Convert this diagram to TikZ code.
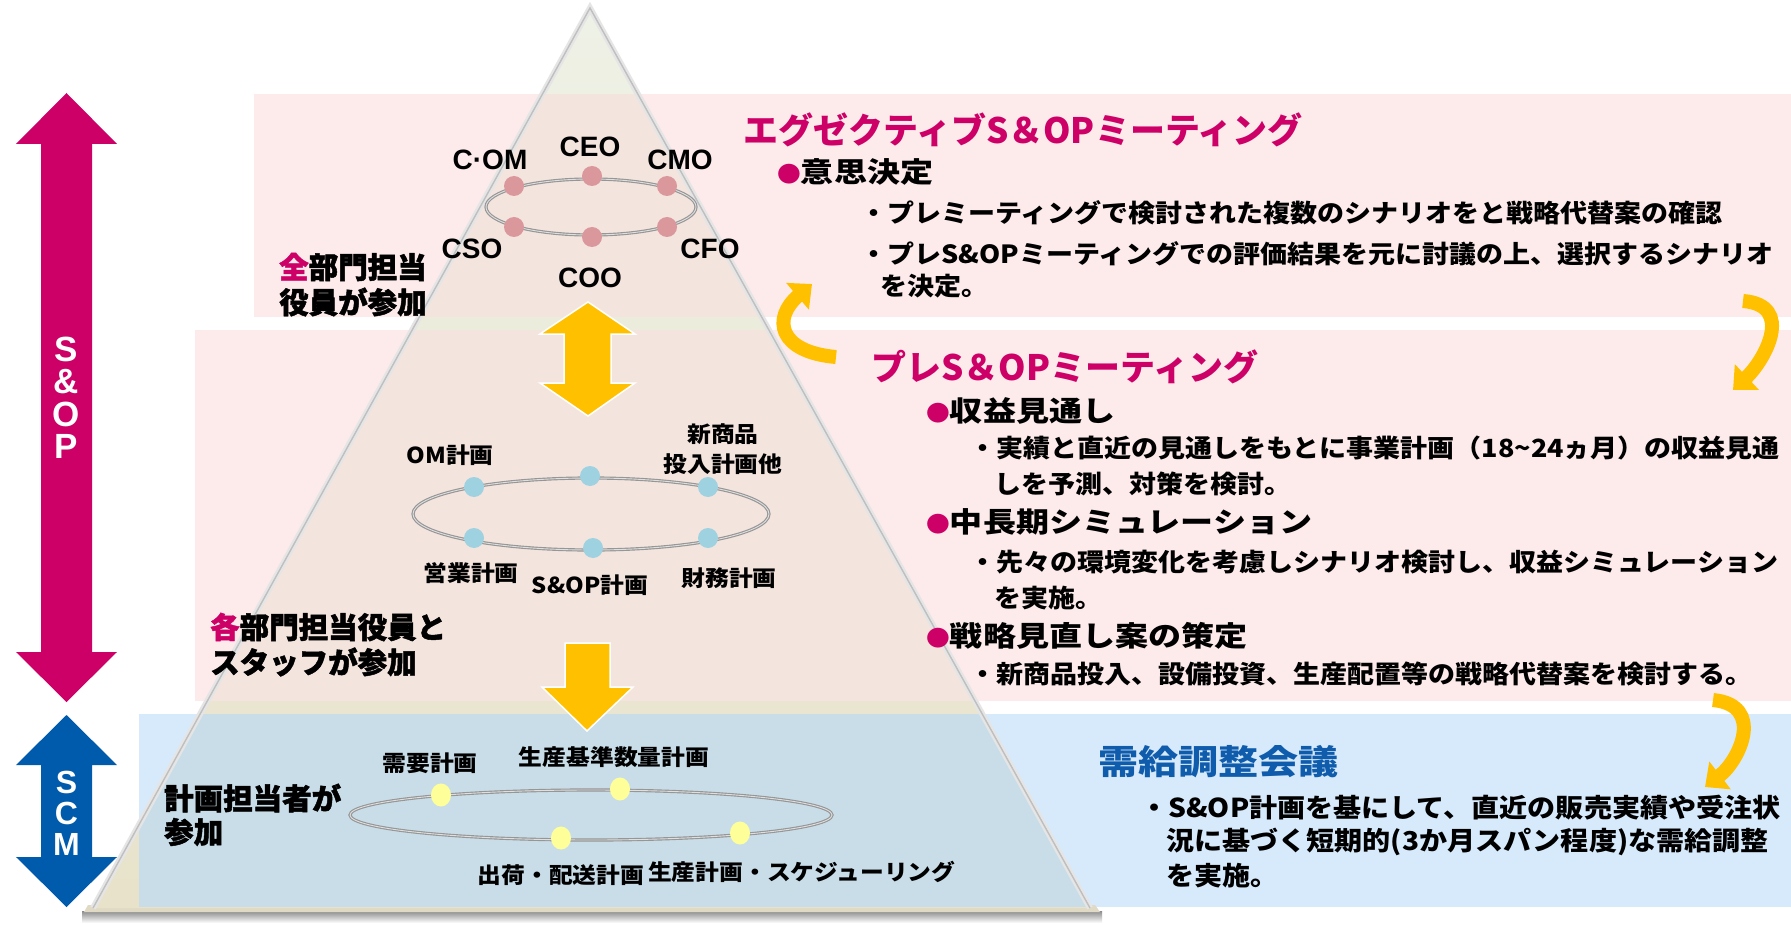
\documentclass[tikz,border=0pt]{standalone}
\usepackage{fontspec}
\setmainfont{Liberation Sans}
\newfontfamily\jp{Noto Sans CJK JP}[FakeStretch=1.08]
\newfontfamily\jph{Noto Sans CJK JP}
\newfontfamily\jpk{Noto Sans CJK JP}[FakeBold=1.6]
\newfontfamily\jpw{Noto Sans CJK JP}[FakeStretch=1.18]
\usetikzlibrary{arrows.meta,shadings,shapes.geometric}
\definecolor{mag}{RGB}{204,0,102}
\definecolor{scmblue}{RGB}{0,91,172}
\definecolor{headblue}{RGB}{16,92,172}
\definecolor{amber}{RGB}{255,192,0}
\definecolor{pinkband}{RGB}{253,235,236}
\definecolor{pinkin}{RGB}{244,228,222}
\definecolor{blueband}{RGB}{215,234,251}
\definecolor{bluein}{RGB}{201,221,233}
\definecolor{pyrtop}{RGB}{238,241,230}
\definecolor{pyrbot}{RGB}{232,226,202}
\definecolor{dotpink}{RGB}{219,152,156}
\definecolor{dotblue}{RGB}{158,210,225}
\definecolor{dotyellow}{RGB}{255,255,153}
\definecolor{ringgray}{RGB}{150,150,150}
\newcommand{\magdot}{{\jp\fontsize{22}{22}\selectfont\color{mag}●}}
\tikzset{
  jpbody/.style={font=\jp\bfseries\fontsize{25}{30}\selectfont, anchor=west, inner sep=0pt},
  jpbody2/.style={font=\jp\bfseries\fontsize{26}{30}\selectfont, anchor=west, inner sep=0pt},
  jpbul/.style={font=\jpw\bfseries\fontsize{28}{32}\selectfont, anchor=west, inner sep=0pt},
  jphead/.style={font=\jph\bfseries\fontsize{35}{40}\selectfont, anchor=west, inner sep=0pt, text=mag},
  scmhead/.style={font=\jpw\bfseries\fontsize{34}{38}\selectfont, anchor=west, inner sep=0pt, text=headblue},
  lab/.style={font=\jpk\bfseries\fontsize{29.5}{34}\selectfont, anchor=west, inner sep=0pt},
  plab/.style={font=\jp\bfseries\fontsize{22}{26}\selectfont, inner sep=0pt},
  execlab/.style={font=\bfseries\fontsize{28}{32}\selectfont, inner sep=0pt},
  vlet/.style={text=white, inner sep=0pt, align=center},
  pdot/.style={circle, fill=dotpink, minimum size=20pt, inner sep=0pt},
  bdot/.style={circle, fill=dotblue, minimum size=20pt, inner sep=0pt},
  ydot/.style={ellipse, fill=dotyellow, minimum width=20pt, minimum height=23pt, inner sep=0pt},
  ring/.style={draw=ringgray, line width=3.2pt},
  ringhi/.style={draw=white!75!gray, line width=0.9pt},
  curvarrow/.style={draw=amber, line width=14pt, -{Triangle[length=19pt,width=34pt]}},
  bigarrow/.style={fill=amber, draw=white, line width=1.5pt},
}
\begin{document}
\begin{tikzpicture}[x=1pt,y=-1pt]
\useasboundingbox (0,0) rectangle (1791,925);
\fill[white] (0,0) rectangle (1791,925);
% bands
\fill[pinkband] (254,94) rectangle (1791,317);
\fill[pinkband] (195,330) rectangle (1791,701);
\fill[blueband] (139,714) rectangle (1791,907);
% pyramid
\coordinate (apex) at (590,8);
\coordinate (bl) at (93,908);
\coordinate (br) at (1090,908);
\shade[top color=black!45, bottom color=white] (82,911) rectangle (1102,923);
\fill[pyrbot!92!gray] (88,905) -- (1095,905) -- (1100,912) -- (84,912) -- cycle;
\shade[top color=pyrtop, bottom color=pyrbot] (apex) -- (bl) -- (br) -- cycle;
\begin{scope}
  \clip (apex) -- (bl) -- (br) -- cycle;
  \fill[pinkin] (254,94) rectangle (1791,317);
  \fill[pinkin] (195,330) rectangle (1791,701);
  \fill[bluein] (139,714) rectangle (1791,907);
\end{scope}
\draw[gray!20, line width=6pt] (bl) -- (apex) -- (br);
\draw[gray!50, line width=1.4pt] (bl) -- (apex) -- (br);
% side arrows
\fill[mag] (66.5,93) -- (117,144) -- (92,144) -- (92,652) -- (117,652) -- (66.5,702) -- (16,652) -- (41,652) -- (41,144) -- (16,144) -- cycle;
\fill[scmblue] (66.5,715) -- (117,765) -- (92,765) -- (92,857) -- (117,857) -- (66.5,907) -- (16,857) -- (41,857) -- (41,765) -- (16,765) -- cycle;
\node[vlet, font=\bfseries\fontsize{35}{32.5}\selectfont] (vsop) at (66.5,398) {S\\\&\\O\\P};
\node[vlet, font=\bfseries\fontsize{32}{31}\selectfont] (vscm) at (66.5,813) {S\\C\\M};
% top ring
\draw[ring] (591,207) ellipse [x radius=105pt, y radius=28pt];
\draw[ringhi] (591,207) ellipse [x radius=105pt, y radius=28pt];
\node[pdot] (e1) at (514,186) {};
\node[pdot] (e2) at (592,176) {};
\node[pdot] (e3) at (667,186) {};
\node[pdot] (e4) at (514,227) {};
\node[pdot] (e5) at (592,237) {};
\node[pdot] (e6) at (667,227) {};
\node[execlab] (com) at (490,160) {C·OM};
\node[execlab] (ceo) at (590,147) {CEO};
\node[execlab] (cmo) at (680,160) {CMO};
\node[execlab] (cso) at (472,249) {CSO};
\node[execlab] (cfo) at (710,249) {CFO};
\node[execlab] (coo) at (590,278) {COO};
\node[lab] (t1a) at (279,267) {{\color{mag}全}部門担当};
\node[lab] (t1b) at (279,302) {役員が参加};
% double arrow
\draw[bigarrow] (588,302) -- (635,334) -- (611,334) -- (611,383) -- (635,383) -- (588,416) -- (540,383) -- (564,383) -- (564,334) -- (540,334) -- cycle;
% middle ring
\draw[ring] (591,514) ellipse [x radius=178pt, y radius=36pt];
\draw[ringhi] (591,514) ellipse [x radius=178pt, y radius=36pt];
\node[bdot] (m1) at (474,487) {};
\node[bdot] (m2) at (590,476) {};
\node[bdot] (m3) at (708,487) {};
\node[bdot] (m4) at (474,538) {};
\node[bdot] (m5) at (593,548) {};
\node[bdot] (m6) at (708,538) {};
\node[plab] (om) at (450,455) {OM計画};
\node[plab] (np1) at (723,434) {新商品};
\node[plab] (np2) at (723,464) {投入計画他};
\node[plab] (eig) at (471,573) {営業計画};
\node[plab] (sop) at (590,585) {S\&OP計画};
\node[plab] (zai) at (729,578) {財務計画};
\node[lab] (t2a) at (210,627) {{\color{mag}各}部門担当役員と};
\node[lab] (t2b) at (210,662) {スタッフが参加};
% down arrow
\draw[bigarrow] (565,643) -- (610,643) -- (610,687) -- (633,687) -- (587,731) -- (542,687) -- (565,687) -- cycle;
% bottom ring
\draw[ring] (591,815) ellipse [x radius=241pt, y radius=25pt];
\draw[ringhi] (591,815) ellipse [x radius=241pt, y radius=25pt];
\node[ydot] (y1) at (441,795) {};
\node[ydot] (y2) at (620,789) {};
\node[ydot] (y3) at (561,838) {};
\node[ydot] (y4) at (740,833) {};
\node[plab] (jy) at (430,763) {需要計画};
\node[plab] (ss) at (614,757) {生産基準数量計画};
\node[plab] (sh) at (561,875) {出荷・配送計画};
\node[plab, anchor=west] (sk) at (648,872) {生産計画・スケジューリング};
\node[lab] (t3a) at (164,798) {計画担当者が};
\node[lab] (t3b) at (164,832) {参加};
% curved arrows
\coordinate (ca1) at (836,357);
\coordinate (ca2) at (812,284);
\draw[curvarrow] (ca1) .. controls (778,352) and (772,318) .. (ca2);
\coordinate (cb1) at (1743,301);
\coordinate (cb2) at (1733,390);
\draw[curvarrow] (cb1) .. controls (1795,305) and (1765,360) .. (cb2);
\coordinate (cc1) at (1713,700);
\coordinate (cc2) at (1705,787);
\draw[curvarrow] (cc1) .. controls (1765,705) and (1740,760) .. (cc2);
% right text: executive
\node[jphead] (h1) at (743,130) {エグゼクティブS＆OPミーティング};
\node[jpbul] (b1) at (777,172) {\magdot 意思決定};
\node[jpbody] (l1) at (860,213) {・プレミーティングで検討された複数のシナリオをと戦略代替案の確認};
\node[jpbody] (l2) at (860,254) {・プレS\&OPミーティングでの評価結果を元に討議の上、選択するシナリオ};
\node[jpbody] (l3) at (880,286) {を決定。};
% pre S&OP
\node[jphead] (h2) at (871,367) {プレS＆OPミーティング};
\node[jpbul] (b2) at (926,411) {\magdot 収益見通し};
\node[jpbody] (l4) at (969,448) {・実績と直近の見通しをもとに事業計画（18\textasciitilde24ヵ月）の収益見通};
\node[jpbody] (l5) at (994,484) {しを予測、対策を検討。};
\node[jpbul] (b3) at (926,522) {\magdot 中長期シミュレーション};
\node[jpbody] (l6) at (969,562) {・先々の環境変化を考慮しシナリオ検討し、収益シミュレーション};
\node[jpbody] (l7) at (994,598) {を実施。};
\node[jpbul] (b4) at (926,636) {\magdot 戦略見直し案の策定};
\node[jpbody] (l8) at (969,674) {・新商品投入、設備投資、生産配置等の戦略代替案を検討する。};
% SCM
\node[scmhead] (h3) at (1098,762) {需給調整会議};
\node[jpbody2] (l9) at (1140,808) {・S\&OP計画を基にして、直近の販売実績や受注状};
\node[jpbody2] (l10) at (1166,842) {況に基づく短期的(3か月スパン程度)な需給調整};
\node[jpbody2] (l11) at (1166,876) {を実施。};
\end{tikzpicture}
\end{document}
